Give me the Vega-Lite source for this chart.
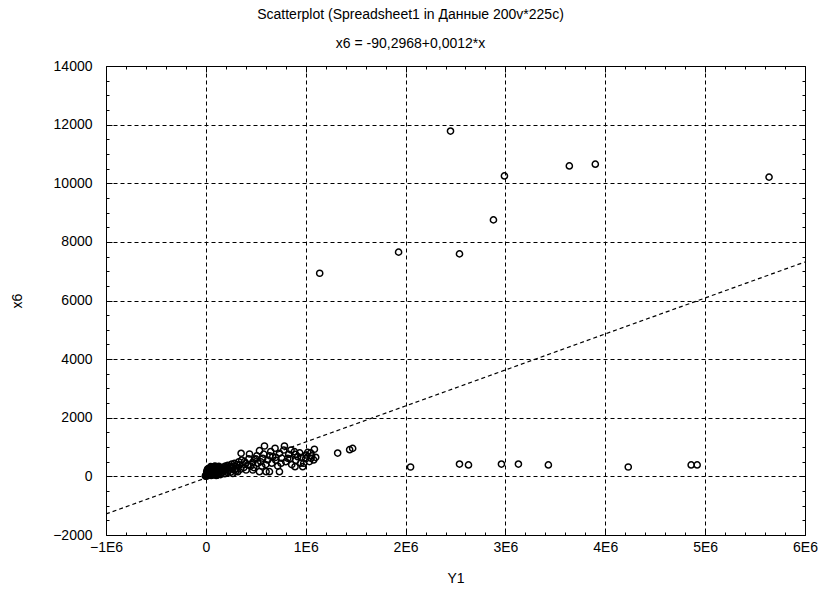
{
  "$schema": "https://vega.github.io/schema/vega-lite/v6.json",
  "width": 699,
  "height": 469,
  "autosize": {"type": "none"},
  "padding": {"left": 106, "top": 66, "right": 24, "bottom": 63},
  "background": "white",
  "config": {
    "font": "Liberation Sans",
    "view": {"stroke": "black", "strokeWidth": 1},
    "axis": {"labelFont": "Liberation Sans", "titleFont": "Liberation Sans", "labelFontSize": 14, "titleFontSize": 14, "labelColor": "black", "titleColor": "black", "titleFontWeight": "normal", "tickColor": "black", "domain": false}
  },
  "title": {
    "text": "Scatterplot (Spreadsheet1 in Данные 200v*225c)",
    "subtitle": "x6  = -90,2968+0,0012*x",
    "anchor": "middle",
    "dx": -45,
    "fontSize": 14,
    "fontWeight": "normal",
    "subtitleFontSize": 14,
    "subtitleColor": "black",
    "subtitleFont": "Liberation Sans",
    "color": "black",
    "offset": 8,
    "subtitlePadding": 15
  },
  "datasets": {
    "pts": [
      {"Y1": -5000, "x6": 10}, {"Y1": 0, "x6": 30}, {"Y1": 5000, "x6": 60}, {"Y1": 10000, "x6": 20}, {"Y1": 15000, "x6": 90}, {"Y1": 20000, "x6": 50}, {"Y1": 25000, "x6": 120}, {"Y1": 30000, "x6": 80}, {"Y1": 35000, "x6": 150}, {"Y1": 40000, "x6": 40}, {"Y1": 45000, "x6": 200}, {"Y1": 50000, "x6": 110}, {"Y1": 55000, "x6": 170}, {"Y1": 60000, "x6": 250}, {"Y1": 65000, "x6": 90}, {"Y1": 70000, "x6": 140}, {"Y1": 75000, "x6": 300}, {"Y1": 80000, "x6": 200}, {"Y1": 85000, "x6": 60}, {"Y1": 90000, "x6": 260}, {"Y1": 95000, "x6": 180}, {"Y1": 100000, "x6": 320}, {"Y1": 105000, "x6": 120}, {"Y1": 110000, "x6": 230}, {"Y1": 115000, "x6": 80}, {"Y1": 120000, "x6": 280}, {"Y1": 125000, "x6": 190}, {"Y1": 130000, "x6": 340}, {"Y1": 135000, "x6": 150}, {"Y1": 140000, "x6": 250}, {"Y1": 145000, "x6": 100}, {"Y1": 150000, "x6": 300},
      {"Y1": 8000, "x6": 150}, {"Y1": 12000, "x6": 200}, {"Y1": 18000, "x6": 250}, {"Y1": 22000, "x6": 180}, {"Y1": 28000, "x6": 270}, {"Y1": 32000, "x6": 230}, {"Y1": 38000, "x6": 100}, {"Y1": 42000, "x6": 290}, {"Y1": 48000, "x6": 330}, {"Y1": 52000, "x6": 260}, {"Y1": 58000, "x6": 140}, {"Y1": 62000, "x6": 320}, {"Y1": 68000, "x6": 210}, {"Y1": 72000, "x6": 60}, {"Y1": 78000, "x6": 240}, {"Y1": 82000, "x6": 330}, {"Y1": 88000, "x6": 110}, {"Y1": 92000, "x6": 350}, {"Y1": 98000, "x6": 220}, {"Y1": 102000, "x6": 160}, {"Y1": 108000, "x6": 280}, {"Y1": 112000, "x6": 40}, {"Y1": 118000, "x6": 190}, {"Y1": 122000, "x6": 300}, {"Y1": 128000, "x6": 70}, {"Y1": 132000, "x6": 210}, {"Y1": 138000, "x6": 290}, {"Y1": 142000, "x6": 180}, {"Y1": 148000, "x6": 60},
      {"Y1": 3000, "x6": 5}, {"Y1": 6000, "x6": 40}, {"Y1": 14000, "x6": 70}, {"Y1": 24000, "x6": 30}, {"Y1": 34000, "x6": 110}, {"Y1": 44000, "x6": 70}, {"Y1": 54000, "x6": 30}, {"Y1": 64000, "x6": 50}, {"Y1": 74000, "x6": 100}, {"Y1": 84000, "x6": 150}, {"Y1": 94000, "x6": 70}, {"Y1": 104000, "x6": 30}, {"Y1": 114000, "x6": 150}, {"Y1": 124000, "x6": 100},
      {"Y1": 160000, "x6": 220}, {"Y1": 170000, "x6": 140}, {"Y1": 180000, "x6": 260}, {"Y1": 190000, "x6": 90}, {"Y1": 200000, "x6": 180}, {"Y1": 210000, "x6": 290}, {"Y1": 175000, "x6": 320}, {"Y1": 195000, "x6": 350}, {"Y1": 205000, "x6": 240}, {"Y1": 215000, "x6": 130},
      {"Y1": 230000, "x6": 200}, {"Y1": 240000, "x6": 330}, {"Y1": 250000, "x6": 150}, {"Y1": 260000, "x6": 280}, {"Y1": 270000, "x6": 100}, {"Y1": 280000, "x6": 350}, {"Y1": 290000, "x6": 220}, {"Y1": 300000, "x6": 170}, {"Y1": 310000, "x6": 400}, {"Y1": 320000, "x6": 160},
      {"Y1": 253000, "x6": 331}, {"Y1": 287000, "x6": 447}, {"Y1": 337000, "x6": 390}, {"Y1": 387000, "x6": 502}, {"Y1": 353000, "x6": 788}, {"Y1": 437000, "x6": 764}, {"Y1": 420000, "x6": 390}, {"Y1": 403000, "x6": 218}, {"Y1": 470000, "x6": 218}, {"Y1": 487000, "x6": 580}, {"Y1": 520000, "x6": 447}, {"Y1": 537000, "x6": 877}, {"Y1": 537000, "x6": 160}, {"Y1": 570000, "x6": 617}, {"Y1": 587000, "x6": 1037}, {"Y1": 603000, "x6": 160}, {"Y1": 620000, "x6": 560}, {"Y1": 637000, "x6": 160}, {"Y1": 670000, "x6": 672}, {"Y1": 693000, "x6": 959}, {"Y1": 737000, "x6": 788}, {"Y1": 737000, "x6": 160}, {"Y1": 753000, "x6": 447}, {"Y1": 787000, "x6": 1037}, {"Y1": 820000, "x6": 617}, {"Y1": 853000, "x6": 901}, {"Y1": 887000, "x6": 844}, {"Y1": 893000, "x6": 331}, {"Y1": 920000, "x6": 672}, {"Y1": 970000, "x6": 331}, {"Y1": 980000, "x6": 447}, {"Y1": 1003000, "x6": 730}, {"Y1": 1037000, "x6": 502}, {"Y1": 1053000, "x6": 617}, {"Y1": 1080000, "x6": 560}, {"Y1": 1087000, "x6": 925},
      {"Y1": 1320000, "x6": 795}, {"Y1": 1440000, "x6": 911}, {"Y1": 1470000, "x6": 955},
      {"Y1": 350000, "x6": 250}, {"Y1": 380000, "x6": 300}, {"Y1": 450000, "x6": 350}, {"Y1": 480000, "x6": 300}, {"Y1": 500000, "x6": 600}, {"Y1": 550000, "x6": 500}, {"Y1": 560000, "x6": 350}, {"Y1": 600000, "x6": 400}, {"Y1": 640000, "x6": 700}, {"Y1": 660000, "x6": 450}, {"Y1": 700000, "x6": 550}, {"Y1": 720000, "x6": 350}, {"Y1": 760000, "x6": 620}, {"Y1": 800000, "x6": 500}, {"Y1": 830000, "x6": 750}, {"Y1": 860000, "x6": 400}, {"Y1": 900000, "x6": 550}, {"Y1": 940000, "x6": 800}, {"Y1": 950000, "x6": 450}, {"Y1": 1000000, "x6": 600}, {"Y1": 1020000, "x6": 820}, {"Y1": 1060000, "x6": 700}, {"Y1": 1100000, "x6": 650}, {"Y1": 430000, "x6": 600}, {"Y1": 470000, "x6": 480}, {"Y1": 510000, "x6": 700}, {"Y1": 580000, "x6": 760}, {"Y1": 650000, "x6": 850}, {"Y1": 700000, "x6": 650}, {"Y1": 780000, "x6": 900}, {"Y1": 840000, "x6": 600}, {"Y1": 900000, "x6": 750}, {"Y1": 960000, "x6": 650}, {"Y1": 1050000, "x6": 800}, {"Y1": 360000, "x6": 560}, {"Y1": 400000, "x6": 450}, {"Y1": 310000, "x6": 280}, {"Y1": 330000, "x6": 500}, {"Y1": 260000, "x6": 420}, {"Y1": 220000, "x6": 380}, {"Y1": 200000, "x6": 300},
      {"Y1": 1140000, "x6": 6930}, {"Y1": 1930000, "x6": 7650}, {"Y1": 2450000, "x6": 11780}, {"Y1": 2540000, "x6": 7590}, {"Y1": 2880000, "x6": 8750}, {"Y1": 2990000, "x6": 10250}, {"Y1": 3640000, "x6": 10590}, {"Y1": 3900000, "x6": 10650}, {"Y1": 5640000, "x6": 10210},
      {"Y1": 2050000, "x6": 320}, {"Y1": 2540000, "x6": 420}, {"Y1": 2630000, "x6": 390}, {"Y1": 2960000, "x6": 420}, {"Y1": 3130000, "x6": 420}, {"Y1": 3430000, "x6": 390}, {"Y1": 4230000, "x6": 320}, {"Y1": 4860000, "x6": 390}, {"Y1": 4920000, "x6": 390}
    ],
    "fit": [
      {"Y1": -1000000, "x6": -1283},
      {"Y1": 6000000, "x6": 7315}
    ]
  },
  "layer": [
    {
      "data": {"name": "fit"},
      "mark": {"type": "line", "stroke": "black", "strokeWidth": 1.2, "strokeDash": [4, 3], "clip": true},
      "encoding": {
        "x": {"field": "Y1", "type": "quantitative", "scale": {"domain": [-1000000, 6000000], "nice": false, "zero": false},
          "axis": {"title": "Y1", "titlePadding": 14, "orient": "bottom",
            "values": [-1000000, -800000, -600000, -400000, -200000, 0, 200000, 400000, 600000, 800000, 1000000, 1200000, 1400000, 1600000, 1800000, 2000000, 2200000, 2400000, 2600000, 2800000, 3000000, 3200000, 3400000, 3600000, 3800000, 4000000, 4200000, 4400000, 4600000, 4800000, 5000000, 5200000, 5400000, 5600000, 5800000, 6000000],
            "labelExpr": "datum.value % 1000000 === 0 ? (datum.value === 0 ? '0' : format(datum.value/1000000, 'd') + 'E6') : ''",
            "labelPadding": 11,
            "labelFlush": false,
            "labelOverlap": false,
            "tickSize": {"condition": {"test": "datum.value % 1000000 === 0", "value": -6}, "value": -3},
            "grid": true, "gridColor": "black", "gridDash": [4, 3], "gridWidth": 1,
            "gridOpacity": {"condition": {"test": "datum.value % 1000000 === 0 && datum.value !== -1000000 && datum.value !== 6000000", "value": 1}, "value": 0}
          }},
        "y": {"field": "x6", "type": "quantitative", "scale": {"domain": [-2000, 14000], "nice": false, "zero": false},
          "axis": {"title": "x6", "titlePadding": 28, "orient": "left",
            "values": [-2000, -1500, -1000, -500, 0, 500, 1000, 1500, 2000, 2500, 3000, 3500, 4000, 4500, 5000, 5500, 6000, 6500, 7000, 7500, 8000, 8500, 9000, 9500, 10000, 10500, 11000, 11500, 12000, 12500, 13000, 13500, 14000],
            "labelExpr": "datum.value % 2000 === 0 ? format(datum.value, 'd') : ''",
            "labelPadding": 20,
            "labelFlush": false,
            "labelOverlap": false,
            "tickSize": {"condition": {"test": "datum.value % 2000 === 0", "value": -6}, "value": -3},
            "grid": true, "gridColor": "black", "gridDash": [4, 3], "gridWidth": 1,
            "gridOpacity": {"condition": {"test": "datum.value % 2000 === 0 && datum.value !== -2000 && datum.value !== 14000", "value": 1}, "value": 0}
          }}
      }
    },
    {
      "data": {"name": "pts"},
      "mark": {"type": "point", "shape": "circle", "filled": false, "stroke": "black", "strokeWidth": 1.5, "size": 38, "opacity": 1},
      "encoding": {
        "x": {"field": "Y1", "type": "quantitative",
          "axis": {"orient": "top", "title": null, "labels": false, "grid": false,
            "values": [-1000000, -800000, -600000, -400000, -200000, 0, 200000, 400000, 600000, 800000, 1000000, 1200000, 1400000, 1600000, 1800000, 2000000, 2200000, 2400000, 2600000, 2800000, 3000000, 3200000, 3400000, 3600000, 3800000, 4000000, 4200000, 4400000, 4600000, 4800000, 5000000, 5200000, 5400000, 5600000, 5800000, 6000000],
            "tickSize": {"condition": {"test": "datum.value % 1000000 === 0", "value": -6}, "value": -3}}},
        "y": {"field": "x6", "type": "quantitative",
          "axis": {"orient": "right", "title": null, "labels": false, "grid": false,
            "values": [-2000, -1500, -1000, -500, 0, 500, 1000, 1500, 2000, 2500, 3000, 3500, 4000, 4500, 5000, 5500, 6000, 6500, 7000, 7500, 8000, 8500, 9000, 9500, 10000, 10500, 11000, 11500, 12000, 12500, 13000, 13500, 14000],
            "tickSize": {"condition": {"test": "datum.value % 2000 === 0", "value": -6}, "value": -3}}}
      }
    }
  ],
  "resolve": {"axis": {"x": "independent", "y": "independent"}}
}
